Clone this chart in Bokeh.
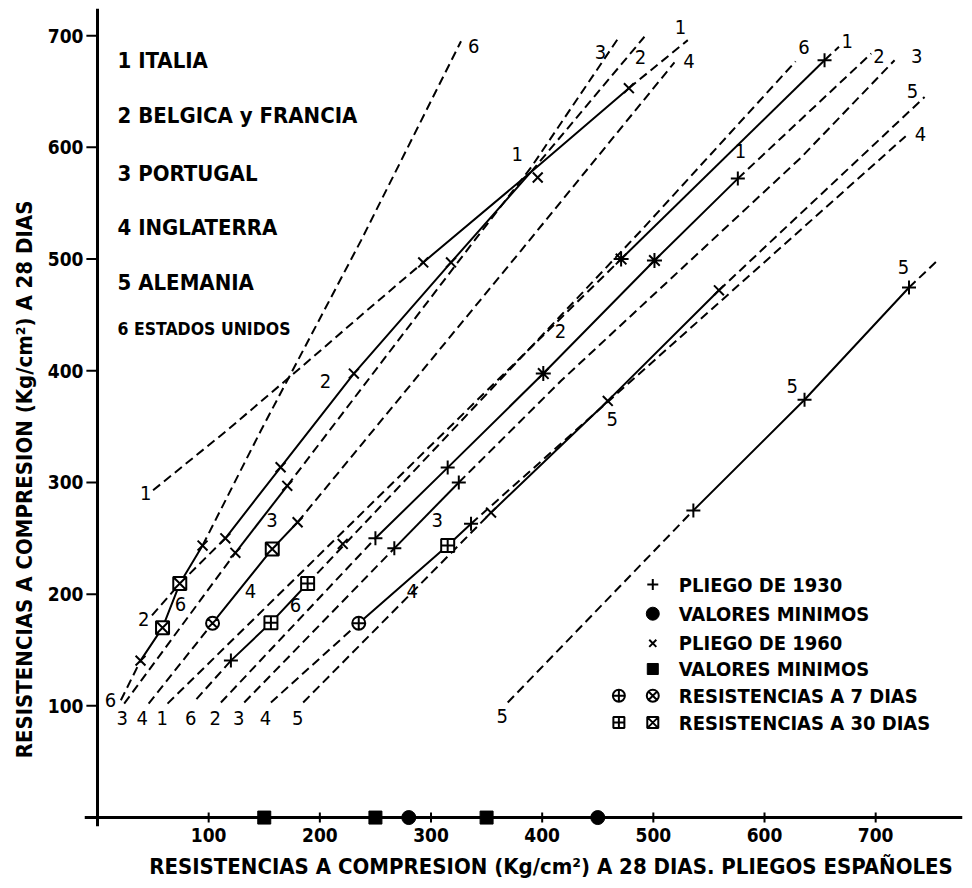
from bokeh.plotting import figure
from bokeh.models import Range1d, FixedTicker
from bokeh.embed import file_html
from bokeh.resources import INLINE
from bokeh.core.properties import value

FONT = "DejaVu Sans Condensed"
NBSP = "\u00a0"

# ---------------- data ----------------
TICKS = [100, 200, 300, 400, 500, 600, 700]
X_START, X_END = -11.7, 778.1
Y_START, Y_END = -8, 724.3

# 1960 specification lines (x markers)
U60_LO = ([21, 38.7], [105, 140.5])
U60_SOLID = ([38.7, 58.5, 74, 94.5], [140.5, 170, 209.5, 243.5])
U60_HI = ([94.5, 147, 237, 327], [243.5, 346.5, 516.5, 695])

P60_LO = ([24, 124], [102, 237])
P60_SOLID = ([124, 170.7], [237, 297])
P60_HI = ([170.7, 339, 390, 468], [297, 516.5, 582, 697])

B60_LO = ([49, 74, 115], [181, 209.5, 250])
B60_SOLID = ([115, 164.7, 230.6, 318, 390], [250, 313.6, 397.5, 497, 578])
B60_HI = ([390, 492], [578, 699])

I60_LO = ([50, 117, 183, 240, 293], [293, 347, 403, 452, 497])
I60_SOLID = ([293, 390, 478], [497, 578, 653])
I60_HI = ([478, 531], [653, 696])

E60_LO = ([46, 103.5], [102, 174])
E60_SOLID = ([103.5, 157.2, 180], [174, 240.5, 264.4])
E60_HI = ([180, 381, 519], [264.4, 507.6, 676])

A60_LO = ([185, 354], [103, 273])
A60_SOLID = ([354, 459, 559], [273, 373, 472])
A60_HI = ([559, 744], [472, 645])

# 1930 specification lines (+ markers)
I30_LO = ([63, 471], [102, 500])
I30_SOLID = ([471, 654], [500, 678])
I30_HI = ([654, 667], [678, 690])

B30_LO = ([111, 250], [103, 250])
B30_SOLID = ([250, 315, 401, 501, 576], [250, 313.3, 397.5, 498.7, 572])
B30_HI = ([576, 696], [572, 684])

P30_LO = ([132, 267], [103, 241])
P30_SOLID = ([267, 325], [241, 300])
P30_HI = ([325, 417, 633, 717], [300, 391, 591, 678])

E30_LO = ([156, 235], [103, 174])
E30_SOLID = ([235, 315, 336], [174, 243.5, 263])
E30_HI = ([336, 727], [263, 610])

A30_LO = ([369, 536], [103, 275])
A30_SOLID = ([536, 636, 730], [275, 374, 474.5])
A30_HI = ([730, 757], [474.5, 500])

U30_LO = ([89, 120], [106, 140.5])
U30_SOLID = ([120, 156, 189], [140.5, 174.5, 209.5])
U30_HI = ([189, 489, 628], [209.5, 525.5, 677])

# markers
X_PTS_X = [38.7, 94.5, 115, 124, 164.7, 170.7, 180, 230.6, 220.6, 293, 318, 396, 478, 354, 459, 559]
X_PTS_Y = [140.5, 243.5, 250, 237, 313.6, 297, 264.4, 397.5, 245, 497, 497, 573, 653, 273, 373, 472]
PLUS_X = [120, 250, 267, 315, 325, 336, 576, 654, 536, 636, 730]
PLUS_Y = [140.5, 250, 241, 313.3, 300, 263, 572, 678, 275, 374, 474.5]
STAR_X = [401, 471, 501]
STAR_Y = [397.5, 500, 498.7]
SQX_X = [58.5, 74, 157.2]
SQX_Y = [170, 209.5, 240.5]
SQC_X = [156, 189, 315]
SQC_Y = [174.5, 209.5, 243.5]
CIRX_X = [103.5]
CIRX_Y = [174]
CIRC_X = [235]
CIRC_Y = [174]
MIN1930_X = [280, 450]
MIN1960_X = [150, 250, 350]

# line number labels
LABEL_TEXT = ["3", "4", "1", "6", "2", "3", "4", "5",
              "6", "1", "2", "6", "4", "3", "6", "2",
              "3", "4", "5", "2", "1", "1", "5", "5", "5",
              "6", "3", "2", "1", "4", "6", "1", "2", "3", "5", "4"]
LABEL_X = [22.2, 40.2, 58.3, 83.8, 106, 127, 151, 180,
           11.7, 43.3, 41.5, 74.7, 137.6, 157, 178, 205,
           305.6, 283, 463, 416.5, 377.5, 578.4, 625, 725, 364,
           338.5, 452.5, 488.4, 524.5, 532, 635.5, 674.4, 703, 737, 733, 740.3]
LABEL_Y = [89.5, 89.5, 89.5, 89.5, 89.5, 89.5, 89.5, 89.5,
           105.5, 291, 178, 191.6, 203, 266, 190, 391,
           266, 203, 357, 436, 594, 597, 386.7, 492.7, 91.3,
           691, 685, 680.7, 707.4, 677.7, 689.6, 695.6, 682, 682, 650.8, 612]

# country legend
COUNTRIES = ["1 ITALIA", "2 BELGICA y FRANCIA", "3 PORTUGAL", "4 INGLATERRA", "5 ALEMANIA"]
COUNTRY_Y = [677.7, 628.5, 577, 528, 479]
COUNTRY6 = "6 ESTADOS UNIDOS"
COUNTRY6_Y = 437.8
COUNTRY_X = 18

# symbol legend
KEY_TEXT = ["PLIEGO DE 1930", "VALORES MINIMOS", "PLIEGO DE 1960", "VALORES MINIMOS",
            "RESISTENCIAS A 7 DIAS", "RESISTENCIAS A 30 DIAS"]
KEY_Y = [208.6, 182.5, 156, 133, 109, 85]
KEY_TEXT_X = 522.9
KEY_SYM_X = 499.5
KEY_SYM2_X = 469

X_TITLE = "RESISTENCIAS A COMPRESION (Kg/cm²) A 28 DIAS. PLIEGOS ESPAÑOLES"
Y_TITLE = "RESISTENCIAS A COMPRESION (Kg/cm²) A 28 DIAS"

# ---------------- figure ----------------
p = figure(width=964, height=884,
           x_range=Range1d(X_START, X_END), y_range=Range1d(Y_START, Y_END),
           output_backend="svg", toolbar_location=None,
           min_border_left=84, min_border_right=2, min_border_top=8, min_border_bottom=58)
p.outline_line_color = None
p.grid.visible = False
p.background_fill_color = "white"
p.border_fill_color = "white"

for ax in (p.xaxis[0], p.yaxis[0]):
    ax.ticker = FixedTicker(ticks=TICKS)
    ax.axis_line_color = None
    ax.major_tick_line_color = None
    ax.minor_tick_line_color = None
    ax.major_tick_out = 0
    ax.major_tick_in = 0
    ax.major_label_text_font = FONT
    ax.major_label_text_font_style = "bold"
    ax.major_label_text_font_size = "19px"
    ax.major_label_text_color = "black"
    ax.major_label_standoff = 1
    ax.axis_label_text_font = FONT
    ax.axis_label_text_font_style = "bold"
    ax.axis_label_text_font_size = "22px"
    ax.axis_label_text_color = "black"

# leading / trailing no-break spaces shift the centred titles to where the original has them
p.xaxis.axis_label = NBSP * 8 + X_TITLE
p.xaxis.axis_label_standoff = 9
p.yaxis.axis_label = Y_TITLE + NBSP * 18
p.yaxis.axis_label_standoff = 8

# drawn axis lines and crossing ticks
p.segment(x0=[X_START, 0], y0=[0, Y_START], x1=[X_END, 0], y1=[0, Y_END], line_color="black", line_width=3)
p.segment(x0=TICKS, y0=[-4.5] * len(TICKS), x1=TICKS, y1=[4.5] * len(TICKS), line_color="black", line_width=2)
p.segment(x0=[-10] * len(TICKS), y0=TICKS, x1=[0] * len(TICKS), y1=TICKS, line_color="black", line_width=2)

DASHED = [U60_LO, U60_HI, P60_LO, P60_HI, B60_LO, B60_HI, I60_LO, I60_HI, E60_LO, E60_HI, A60_LO, A60_HI,
          I30_LO, I30_HI, B30_LO, B30_HI, P30_LO, P30_HI, E30_LO, E30_HI, A30_LO, A30_HI, U30_LO, U30_HI]
SOLID = [U60_SOLID, P60_SOLID, B60_SOLID, I60_SOLID, E60_SOLID, A60_SOLID,
         I30_SOLID, B30_SOLID, P30_SOLID, E30_SOLID, A30_SOLID, U30_SOLID]

for xs, ys in DASHED:
    p.line(xs, ys, line_color="black", line_width=2, line_dash="9 5")
for xs, ys in SOLID:
    p.line(xs, ys, line_color="black", line_width=2)

mk = dict(line_color="black", line_width=2)
p.scatter(X_PTS_X, X_PTS_Y, marker="x", size=14, **mk)
p.scatter(PLUS_X, PLUS_Y, marker="cross", size=14, **mk)
p.scatter(STAR_X, STAR_Y, marker="asterisk", size=15, **mk)
p.scatter(SQX_X, SQX_Y, marker="square_x", size=13, fill_color="white", **mk)
p.scatter(SQC_X, SQC_Y, marker="square_cross", size=13, fill_color="white", **mk)
p.scatter(CIRX_X, CIRX_Y, marker="circle_x", size=13, fill_color="white", **mk)
p.scatter(CIRC_X, CIRC_Y, marker="circle_cross", size=13, fill_color="white", **mk)
p.scatter(MIN1930_X, [0] * len(MIN1930_X), marker="circle", size=14, fill_color="black", line_color="black")
p.scatter(MIN1960_X, [0] * len(MIN1960_X), marker="square", size=13, fill_color="black", line_color="black")

# line number labels
p.text(LABEL_X, LABEL_Y, text=LABEL_TEXT, text_font=value(FONT), text_font_size="20px",
       text_align="center", text_baseline="middle", text_color="black")

# country legend
p.text([COUNTRY_X] * len(COUNTRIES), COUNTRY_Y, text=COUNTRIES, text_font=value(FONT),
       text_font_style="bold", text_font_size="22px", text_align="left", text_baseline="middle",
       text_color="black")
p.text([COUNTRY_X], [COUNTRY6_Y], text=[COUNTRY6], text_font=value(FONT),
       text_font_style="bold", text_font_size="17.5px", text_align="left", text_baseline="middle",
       text_color="black")

# symbol legend
p.text([KEY_TEXT_X] * len(KEY_TEXT), KEY_Y, text=KEY_TEXT, text_font=value(FONT),
       text_font_style="bold", text_font_size="20px", text_align="left", text_baseline="middle",
       text_color="black")
p.scatter([KEY_SYM_X], [KEY_Y[0]], marker="cross", size=11, **mk)
p.scatter([KEY_SYM_X], [KEY_Y[1]], marker="circle", size=13, fill_color="black", line_color="black")
p.scatter([KEY_SYM_X], [KEY_Y[2]], marker="x", size=10, **mk)
p.scatter([KEY_SYM_X], [KEY_Y[3]], marker="square", size=11, fill_color="black", line_color="black")
p.scatter([KEY_SYM2_X], [KEY_Y[4]], marker="circle_cross", size=12, fill_color="white", **mk)
p.scatter([KEY_SYM_X], [KEY_Y[4]], marker="circle_x", size=12, fill_color="white", **mk)
p.scatter([KEY_SYM2_X], [KEY_Y[5]], marker="square_cross", size=11, fill_color="white", **mk)
p.scatter([KEY_SYM_X], [KEY_Y[5]], marker="square_x", size=11, fill_color="white", **mk)

open("out.html", "w").write(file_html(p, INLINE))
